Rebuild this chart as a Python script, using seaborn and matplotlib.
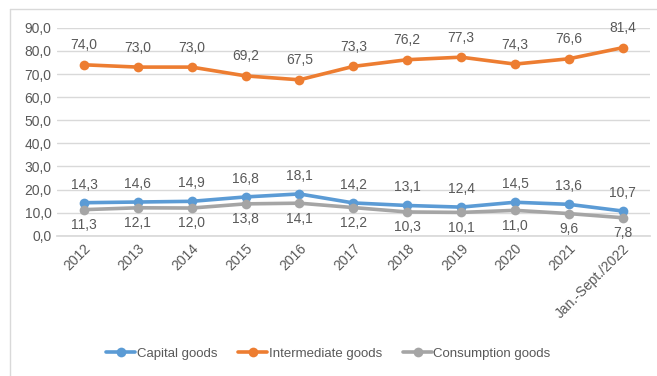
import matplotlib
matplotlib.use("Agg")
import matplotlib.pyplot as plt
import seaborn as sns
import pandas as pd
from matplotlib.lines import Line2D

categories = ["2012", "2013", "2014", "2015", "2016", "2017", "2018", "2019",
              "2020", "2021", "Jan.-Sept./2022"]
capital = [14.3, 14.6, 14.9, 16.8, 18.1, 14.2, 13.1, 12.4, 14.5, 13.6, 10.7]
intermediate = [74.0, 73.0, 73.0, 69.2, 67.5, 73.3, 76.2, 77.3, 74.3, 76.6, 81.4]
consumption = [11.3, 12.1, 12.0, 13.8, 14.1, 12.2, 10.3, 10.1, 11.0, 9.6, 7.8]
yticks = [0, 10, 20, 30, 40, 50, 60, 70, 80, 90]

series_names = ["Capital goods", "Intermediate goods", "Consumption goods"]
colors = ["#5B9BD5", "#ED7D31", "#A5A5A5"]

df = pd.DataFrame({
    "cat": categories * 3,
    "x": list(range(len(categories))) * 3,
    "value": capital + intermediate + consumption,
    "series": [s for s in series_names for _ in categories],
})

sns.set_theme(style="white")
plt.rcParams["font.family"] = ["Liberation Sans", "DejaVu Sans"]
txt = "#595959"

fig = plt.figure(figsize=(6.57, 3.76), dpi=100)
ax = fig.add_axes([0.0868, 0.373, 0.902, 0.553])

sns.lineplot(data=df, x="x", y="value", hue="series", hue_order=series_names,
             palette=colors, marker="o", markersize=7, markeredgewidth=0,
             linewidth=2.6, ax=ax, legend=False, zorder=3)

ax.set_xlim(-0.5, len(categories) - 0.5)
ax.set_ylim(0, 90)
ax.set_yticks(yticks)
ax.set_yticklabels([f"{v:.1f}".replace(".", ",") for v in yticks], color=txt, fontsize=10)
ax.set_xticks(range(len(categories)))
ax.set_xticklabels(categories, rotation=45, ha="right", rotation_mode="anchor",
                   color=txt, fontsize=10)
ax.tick_params(axis="both", length=0, pad=4)
ax.grid(axis="y", color="#D9D9D9", linewidth=1)
ax.set_axisbelow(True)
for s in ["top", "right", "left"]:
    ax.spines[s].set_visible(False)
ax.spines["bottom"].set_color("#D9D9D9")
ax.set_xlabel("")
ax.set_ylabel("")

def lab(vals, dy, va):
    for i, v in enumerate(vals):
        ax.annotate(f"{v:.1f}".replace(".", ","), (i, v), xytext=(0, dy),
                    textcoords="offset points", ha="center", va=va,
                    color=txt, fontsize=10)

lab(intermediate, 9, "bottom")
lab(capital, 8, "bottom")
lab(consumption, -6, "top")

handles = [Line2D([0], [0], color=c, lw=2.6, marker="o", markersize=7,
                  markeredgewidth=0) for c in colors]
fig.legend(handles, series_names, loc="center", bbox_to_anchor=(0.5, 0.06),
           ncol=3, frameon=False, fontsize=9.5, labelcolor=txt,
           handlelength=2.2, handletextpad=0.1, columnspacing=1.6)

fig.add_artist(Line2D([9.5 / 657, 9.5 / 657], [0, 1 - 8.5 / 376],
                      transform=fig.transFigure, color="#D9D9D9", lw=1))
fig.add_artist(Line2D([9.5 / 657, 1], [1 - 8.5 / 376, 1 - 8.5 / 376],
                      transform=fig.transFigure, color="#D9D9D9", lw=1))

fig.savefig("out.png", dpi=100)
